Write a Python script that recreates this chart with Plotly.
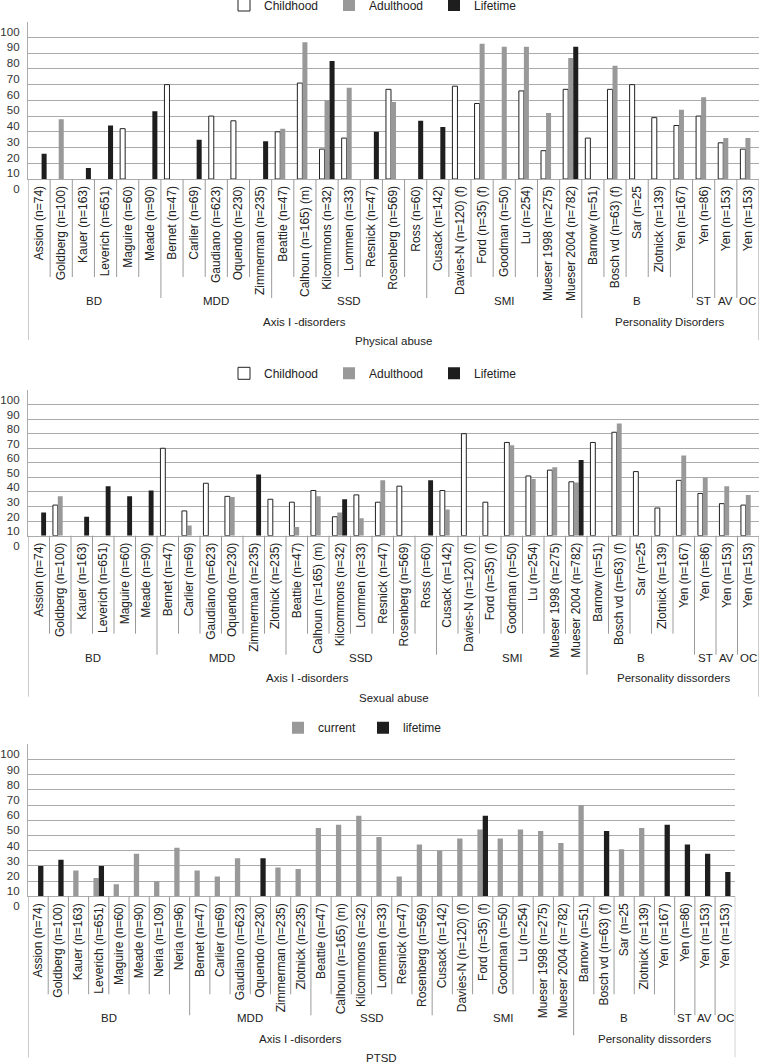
import plotly.graph_objects as go

W, H = 760, 1063
FONT = "Liberation Sans, Arial, sans-serif"

# ---------------- Physical abuse ----------------
pa_names = ["Assion (n=74)", "Goldberg (n=100)", "Kauer (n=163)", "Leverich (n=651)",
            "Maguire (n=60)", "Meade (n=90)", "Bernet (n=47)", "Carlier (n=69)",
            "Gaudiano (n=623)", "Oquendo (n=230)", "Zimmerman (n=235)", "Beattie (n=47)",
            "Calhoun (n=165) (m)", "Kilcommons (n=32)", "Lommen (n=33)", "Resnick (n=47)",
            "Rosenberg (n=569)", "Ross (n=60)", "Cusack (n=142)", "Davies-N (n=120) (f)",
            "Ford (n=35) (f)", "Goodman (n=50)", "Lu (n=254)", "Mueser 1998 (n=275)",
            "Mueser 2004 (n=782)", "Barnow (n=51)", "Bosch vd (n=63) (f)", "Sar (n=25",
            "Zlotnick (n=139)", "Yen (n=167)", "Yen (n=86)", "Yen (n=153)", "Yen (n=153)"]
pa_groups = ["BD", "MDD", "SSD", "SMI", "B", "ST", "AV", "OC"]
pa_group_sizes = [6, 5, 7, 7, 5, 1, 1, 1]
pa_sections = ["Axis I -disorders", "Personality Disorders"]
pa_section_sizes = [25, 8]
pa_childhood = [None, None, None, None, 32, None, 60, None, 40, 37, None, 30, 61, 19, 26, None,
                57, None, None, 59, 48, None, 56, 18, 57, 26, 57, 60, 39, 34, 40, 23, 19]
pa_adulthood = [None, 38, None, None, None, None, None, None, None, None, None, 32, 87, 50, 58, None,
                49, None, None, None, 86, 84, 84, 42, 77, None, 72, None, None, 44, 52, 26, 26]
pa_lifetime = [16, None, 7, 34, None, 43, None, 25, None, None, 24, None, None, 75, None, 30,
               None, 37, 33, None, None, None, None, None, 84, None, None, None, None, None, None, None, None]

# ---------------- Sexual abuse ----------------
sa_names = ["Assion (n=74)", "Goldberg (n=100)", "Kauer (n=163)", "Leverich (n=651)",
            "Maguire (n=60)", "Meade (n=90)", "Bernet (n=47)", "Carlier (n=69)",
            "Gaudiano (n=623)", "Oquendo (n=230)", "Zimmerman (n=235)", "Zlotnick (n=235)",
            "Beattie (n=47)", "Calhoun (n=165) (m)", "Kilcommons (n=32)", "Lommen (n=33)",
            "Resnick (n=47)", "Rosenberg (n=569)", "Ross (n=60)", "Cusack (n=142)",
            "Davies-N (n=120) (f)", "Ford (n=35) (f)", "Goodman (n=50)", "Lu (n=254)",
            "Mueser 1998 (n=275)", "Mueser 2004 (n=782)", "Barnow (n=51)", "Bosch vd (n=63) (f)",
            "Sar (n=25", "Zlotnick (n=139)", "Yen (n=167)", "Yen (n=86)", "Yen (n=153)", "Yen (n=153)"]
sa_groups = ["BD", "MDD", "SSD", "SMI", "B", "ST", "AV", "OC"]
sa_group_sizes = [6, 6, 7, 7, 5, 1, 1, 1]
sa_sections = ["Axis I -disorders", "Personality dissorders"]
sa_section_sizes = [26, 8]
sa_childhood = [None, 21, None, None, None, None, 60, 17, 36, 27, None, 25, 23, 31, 13, 28, 23,
                34, None, 31, 70, 23, 64, 41, 45, 37, 64, 71, 44, 19, 38, 29, 22, 21]
sa_adulthood = [None, 27, None, None, None, None, None, 7, None, 26.5, None, None, 6, 27, 16, 12, 38,
                None, None, 18, None, None, 62, 39, 47, 36.5, None, 77, None, None, 55, 40, 34, 28]
sa_lifetime = [16, None, 13, 34, 27, 31, None, None, None, None, 42, None, None, None, 25, None, None,
               None, 38, None, None, None, None, None, None, 52, None, None, None, None, None, None, None, None]

# ---------------- PTSD ----------------
pt_names = ["Assion (n=74)", "Goldberg (n=100)", "Kauer (n=163)", "Leverich (n=651)",
            "Maguire (n=60)", "Meade (n=90)", "Neria (n=109)", "Neria (n=96)", "Bernet (n=47)",
            "Carlier (n=69)", "Gaudiano (n=623)", "Oquendo (n=230)", "Zimmerman (n=235)",
            "Zlotnick (n=235)", "Beattie (n=47)", "Calhoun (n=165) (m)", "Kilcommons (n=32)",
            "Lommen (n=33)", "Resnick (n=47)", "Rosenberg (n=569)", "Cusack (n=142)",
            "Davies-N (n=120) (f)", "Ford (n=35) (f)", "Goodman (n=50)", "Lu (n=254)",
            "Mueser 1998 (n=275)", "Mueser 2004 (n=782)", "Barnow (n=51)", "Bosch vd (n=63) (f)",
            "Sar (n=25", "Zlotnick (n=139)", "Yen (n=167)", "Yen (n=86)", "Yen (n=153)", "Yen (n=153)"]
pt_groups = ["BD", "MDD", "SSD", "SMI", "B", "ST", "AV", "OC"]
pt_group_sizes = [8, 6, 6, 7, 5, 1, 1, 1]
pt_sections = ["Axis I -disorders", "Personality dissorders"]
pt_section_sizes = [27, 8]
pt_current = [None, None, 17, 12, 8, 28, 10, 32, 17, 13, 25, None, 19, 18, 45, 47, 53, 39, 13, 34,
              30, 38, 44, 38, 44, 43, 35, 60, None, 31, 45, None, None, None, None]
pt_lifetime = [20, 24, None, 20, None, None, None, None, None, None, None, 25, None, None, None, None,
               None, None, None, None, None, None, 53, None, None, None, None, None, 43, None, None,
               47, 34, 28, 16]

GRID = "#ababab"
SEP = "#9a9a9a"
TXT = "#222222"

fig = go.Figure()
shapes, annotations = [], []


def add_panel(k, names, groups, group_sizes, sections, section_sizes, title,
              series, top, base, right, leg_x, leg_y, entrywidth):
    sfx = "" if k == 1 else str(k)
    n = len(names)
    idx = list(range(n))
    for name, vals, style, w, off in series:
        fig.add_trace(go.Bar(
            x=idx, y=vals, name=name, width=w, offset=off,
            marker=style, xaxis="x" + sfx, yaxis="y" + sfx,
            legend="legend" + sfx, hoverinfo="skip"))

    fig.update_layout(**{
        "xaxis" + sfx: dict(
            domain=[28 / W, right / W], anchor="y" + sfx, range=[-0.5, n - 0.5],
            tickmode="array", tickvals=idx, ticktext=names, tickangle=-90,
            tickfont=dict(family=FONT, size=12, color=TXT), ticks="",
            showgrid=False, zeroline=False, showline=True, linecolor=GRID,
            linewidth=1.3, automargin=False, ticklabelstandoff=1, fixedrange=True),
        "yaxis" + sfx: dict(
            domain=[1 - base / H, 1 - top / H], anchor="x" + sfx, range=[0, 100],
            dtick=10, showgrid=True, gridcolor=GRID, gridwidth=1.3, zeroline=False,
            showline=True, linecolor=GRID, linewidth=1.3, ticks="",
            tickfont=dict(family=FONT, size=11.5, color="#333333"),
            ticklabelshift=10, ticklabelstandoff=5, automargin=False, fixedrange=True),
        "legend" + sfx: dict(
            orientation="h", x=leg_x / W, y=1 - leg_y / H, xanchor="left", yanchor="middle",
            font=dict(family=FONT, size=12, color=TXT), bgcolor="rgba(0,0,0,0)",
            entrywidth=entrywidth, entrywidthmode="pixels", traceorder="normal"),
    })

    xr = "x" + sfx

    def ypx(p):
        return 1 - p / H

    # boundaries between categories
    group_ends = set()
    c = 0
    for s in group_sizes:
        c += s
        group_ends.add(c)
    section_ends = set()
    c = 0
    for s in section_sizes:
        c += s
        section_ends.add(c)
    for b in range(0, n + 1):
        if b == 0 or b == n:
            depth = 161
        elif b in section_ends:
            depth = 139
        elif b in group_ends:
            depth = 119
        else:
            depth = 98
        shapes.append(dict(type="line", xref=xr, yref="paper", x0=b - 0.5, x1=b - 0.5,
                           y0=ypx(base), y1=ypx(base + depth),
                           line=dict(color=SEP, width=1)))

    lab_font = dict(family=FONT, size=11.5, color=TXT)
    c = 0
    for g, s in zip(groups, group_sizes):
        annotations.append(dict(text=g, xref=xr, yref="paper", x=c + s / 2 - 0.5,
                                y=ypx(base + 122), showarrow=False, yanchor="middle",
                                font=lab_font))
        c += s
    c = 0
    for g, s in zip(sections, section_sizes):
        annotations.append(dict(text=g, xref=xr, yref="paper", x=c + s / 2 - 0.5,
                                y=ypx(base + 142.5), showarrow=False, yanchor="middle",
                                font=lab_font))
        c += s
    annotations.append(dict(text=title, xref=xr, yref="paper", x=(n - 1) / 2,
                            y=ypx(base + 162), showarrow=False, yanchor="middle",
                            font=lab_font))


child_style = dict(color="white", line=dict(color="#222222", width=1))
adult_style = dict(color="#999999", line=dict(width=0))
life_style = dict(color="#1e1e1e", line=dict(width=0))

w3 = 0.227
add_panel(1, pa_names, pa_groups, pa_group_sizes, pa_sections, pa_section_sizes,
          "Physical abuse",
          [("Childhood", pa_childhood, child_style, w3, -1.5 * w3),
           ("Adulthood", pa_adulthood, adult_style, w3, -0.5 * w3),
           ("Lifetime", pa_lifetime, life_style, w3, 0.5 * w3)],
          top=21.7, base=179, right=759, leg_x=224, leg_y=5, entrywidth=60)

add_panel(2, sa_names, sa_groups, sa_group_sizes, sa_sections, sa_section_sizes,
          "Sexual abuse",
          [("Childhood", sa_childhood, child_style, w3, -1.5 * w3),
           ("Adulthood", sa_adulthood, adult_style, w3, -0.5 * w3),
           ("Lifetime", sa_lifetime, life_style, w3, 0.5 * w3)],
          top=390, base=535.7, right=759, leg_x=224, leg_y=373.3, entrywidth=60)

w2 = 0.262
add_panel(3, pt_names, pt_groups, pt_group_sizes, pt_sections, pt_section_sizes,
          "PTSD",
          [("current", pt_current, adult_style, w2, -w2),
           ("lifetime", pt_lifetime, life_style, w2, 0)],
          top=744.3, base=896.3, right=735.3, leg_x=278, leg_y=727.7, entrywidth=40)

fig.update_layout(
    template="none",
    width=W, height=H,
    margin=dict(l=0, r=0, t=0, b=0, pad=0, autoexpand=False),
    paper_bgcolor="white", plot_bgcolor="white",
    barmode="overlay",
    showlegend=True,
    shapes=shapes,
    annotations=annotations,
    font=dict(family=FONT, size=12, color=TXT),
)

# the page's default 8px body margin would push the fixed-size figure off the window
fig.write_html("out.html", config={"displayModeBar": False},
               post_script="document.body.style.margin='0';")
